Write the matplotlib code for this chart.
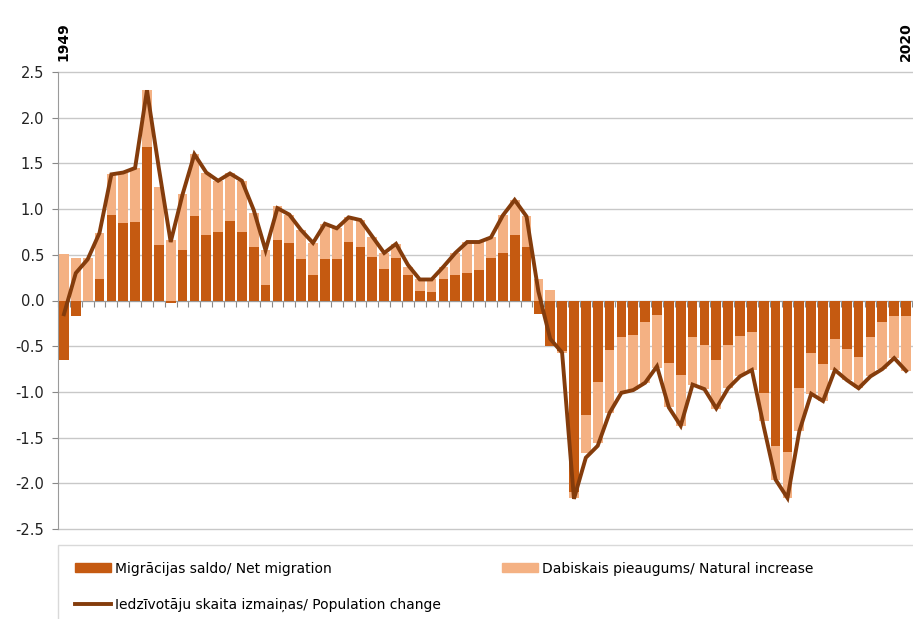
import numpy as np
import matplotlib.pyplot as plt
from matplotlib.patches import Patch, Rectangle
from matplotlib.lines import Line2D

years = list(range(1949, 2021))

# Migrācijas saldo / net migration, %
net_migration = [-0.65, -0.17, 0.00, 0.24, 0.94, 0.85, 0.86, 1.68, 0.61, -0.03,
                 0.55, 0.92, 0.72, 0.75, 0.87, 0.75, 0.58, 0.17, 0.66, 0.63,
                 0.45, 0.28, 0.45, 0.45, 0.64, 0.58, 0.48, 0.34, 0.46, 0.28,
                 0.10, 0.09, 0.23, 0.28, 0.30, 0.33, 0.46, 0.52, 0.72, 0.59,
                 -0.15, -0.50, -0.55, -2.10, -1.25, -0.89, -0.54, -0.40, -0.38, -0.24,
                 -0.16, -0.68, -0.81, -0.40, -0.49, -0.65, -0.49, -0.39, -0.35, -1.01,
                 -1.59, -1.66, -0.96, -0.57, -0.69, -0.42, -0.53, -0.62, -0.40, -0.24,
                 -0.17, -0.17]

# Dabiskais pieaugums / natural increase, %
natural_increase = [0.51, 0.46, 0.46, 0.50, 0.44, 0.55, 0.59, 0.62, 0.63, 0.66,
                    0.61, 0.68, 0.68, 0.56, 0.52, 0.56, 0.38, 0.38, 0.37, 0.31,
                    0.32, 0.35, 0.39, 0.34, 0.27, 0.30, 0.22, 0.18, 0.16, 0.09,
                    0.13, 0.14, 0.14, 0.24, 0.34, 0.31, 0.23, 0.41, 0.38, 0.33,
                    0.24, 0.11, -0.02, -0.06, -0.42, -0.67, -0.69, -0.61, -0.60, -0.66,
                    -0.58, -0.49, -0.56, -0.52, -0.48, -0.54, -0.47, -0.44, -0.41, -0.31,
                    -0.37, -0.50, -0.47, -0.45, -0.41, -0.34, -0.34, -0.34, -0.43, -0.51,
                    -0.46, -0.60]

# Iedzīvotāju skaita izmaiņas / population change, %
population_change = [-0.15, 0.30, 0.45, 0.74, 1.38, 1.40, 1.45, 2.30, 1.45, 0.64,
                     1.16, 1.60, 1.40, 1.31, 1.39, 1.31, 0.99, 0.55, 1.01, 0.94,
                     0.77, 0.63, 0.84, 0.79, 0.91, 0.88, 0.70, 0.52, 0.62, 0.39,
                     0.23, 0.23, 0.37, 0.52, 0.64, 0.64, 0.69, 0.93, 1.10, 0.92,
                     0.10, -0.42, -0.57, -2.17, -1.72, -1.59, -1.23, -1.01, -0.98, -0.90,
                     -0.72, -1.17, -1.37, -0.92, -0.97, -1.18, -0.96, -0.83, -0.76, -1.38,
                     -1.96, -2.16, -1.43, -1.02, -1.10, -0.76, -0.87, -0.96, -0.83, -0.75,
                     -0.63, -0.77]

ytick_vals = [2.5, 2.0, 1.5, 1.0, 0.5, 0.0, -0.5, -1.0, -1.5, -2.0, -2.5]

c_net = '#C55A11'
c_nat = '#F4B183'
c_pop = '#843C0C'

net = np.array(net_migration)
nat = np.array(natural_increase)
x = np.arange(len(years))

# excel-style stacking: positives on positives, negatives on negatives
nat_bottom = np.where(np.sign(nat) == np.sign(net), net, 0.0)

fig = plt.figure(figsize=(9.13, 6.19), dpi=100, facecolor='white')
ax = fig.add_axes([58/913, 1-529/619, 854/913, 457/619])

ax.bar(x, net, width=0.82, color=c_net, zorder=3)
ax.bar(x, nat, bottom=nat_bottom, width=0.82, color=c_nat, zorder=3)
ax.plot(x, population_change, color=c_pop, lw=2.8, zorder=5, solid_joinstyle='miter')

ax.set_xlim(-0.5, len(years) - 0.5)
ax.set_ylim(-2.5, 2.5)
ax.set_yticks(ytick_vals)
ax.set_yticklabels([f'{v:.1f}' for v in ytick_vals], fontsize=10.5, color='#222222')
ax.yaxis.grid(True, color='#C8C8C8', lw=1)
for gl in ax.get_ygridlines():
    gl.set_clip_on(False)
ax.set_axisbelow(True)

ax.set_xticks(np.arange(len(years) + 1) - 0.5)
ax.set_xticklabels([])
ax.tick_params(axis='x', length=4, color='#888888', direction='out')
ax.tick_params(axis='y', length=4, color='#888888', pad=6)

for s in ['top', 'right']:
    ax.spines[s].set_visible(False)
ax.spines['bottom'].set_position(('data', 0))
ax.spines['bottom'].set_color('#9A9A9A')
ax.spines['left'].set_color('#9A9A9A')

ax.text(0, 2.62, str(years[0]), rotation=90, ha='center', va='bottom',
        fontsize=10, fontweight='bold')
ax.text(len(years) - 1, 2.62, str(years[-1]), rotation=90, ha='center', va='bottom',
        fontsize=10, fontweight='bold')

# legend box
fig.patches.append(Rectangle((58/913, -0.01), 860/913, 1-545/619+0.01, transform=fig.transFigure,
                             fill=False, edgecolor='#D9D9D9', lw=1))

handles = [Patch(color=c_net), Line2D([], [], color=c_pop, lw=2.8), Patch(color=c_nat)]
labels = ['Migrācijas saldo/ Net migration',
          'Iedzīvotāju skaita izmaiņas/ Population change',
          'Dabiskais pieaugums/ Natural increase']
fig.legend(handles, labels, ncol=2, loc='upper left', bbox_to_anchor=(62/913, 1-549/619),
           frameon=False, fontsize=10, handlelength=2.6, handleheight=0.55,
           handletextpad=0.3, columnspacing=4.4, labelspacing=1.6)

plt.savefig('out.png', dpi=100, facecolor='white')
